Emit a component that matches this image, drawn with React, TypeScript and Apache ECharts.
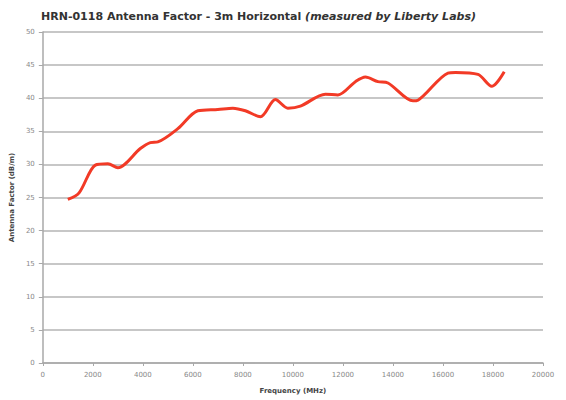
import React, { useEffect, useRef } from "react";
import * as echarts from "echarts";

const titleMain = "HRN-0118 Antenna Factor - 3m Horizontal";
const titleNote = "(measured by Liberty Labs)";
const xAxisName = "Frequency (MHz)";
const yAxisName = "Antenna Factor (dB/m)";

const frequencies = [1000, 1450, 2100, 2600, 3000, 3900, 4300, 4600, 5400, 6200, 7000, 7600, 8100, 8700, 9300, 9800, 10300, 11300, 11800, 12500, 12900, 13400, 13800, 14800, 15000, 16200, 16500, 17400, 17950, 18450];
const antennaFactor = [24.7, 25.7, 29.9, 30.1, 29.5, 32.4, 33.3, 33.4, 35.4, 38.1, 38.3, 38.5, 38.1, 37.2, 39.8, 38.5, 38.8, 40.6, 40.5, 42.5, 43.2, 42.5, 42.3, 39.6, 39.7, 43.8, 43.9, 43.6, 41.8, 44.0];

export default function App() {
  const ref = useRef<HTMLDivElement>(null);
  useEffect(() => {
    if (!ref.current) return;
    const chart = echarts.init(ref.current, null, { renderer: "svg" });
    const data = frequencies.map((f, i) => [f, antennaFactor[i]]);
    const base = { fontFamily: "DejaVu Sans", fontSize: 11, fontWeight: "bold", color: "#333333" };
    chart.setOption({
      animation: false,
      backgroundColor: "#ffffff",
      title: {
        text: "{a|" + titleMain + "} {b|" + titleNote + "}",
        left: 36,
        top: 6,
        textStyle: {
          ...base,
          rich: {
            a: { ...base },
            b: { ...base, fontStyle: "italic" },
          },
        },
      },
      grid: { left: 42, right: 23, top: 32, bottom: 37, containLabel: false },
      xAxis: {
        type: "value",
        min: 0,
        max: 20000,
        interval: 2000,
        name: xAxisName,
        nameLocation: "middle",
        nameGap: 24,
        nameTextStyle: { fontFamily: "DejaVu Sans", fontSize: 7, fontWeight: "bold", color: "#444444" },
        axisLine: { show: true, lineStyle: { color: "#a8a8a8", width: 1.5 } },
        axisTick: { show: true, length: 3, lineStyle: { color: "#a8a8a8" } },
        axisLabel: {
          fontFamily: "DejaVu Sans",
          fontSize: 7,
          color: "#888888",
          margin: 8,
          formatter: (v: number) => String(v),
        },
        splitLine: { show: false },
      },
      yAxis: {
        type: "value",
        min: 0,
        max: 50,
        interval: 5,
        name: yAxisName,
        nameLocation: "middle",
        nameGap: 26,
        nameTextStyle: { fontFamily: "DejaVu Sans", fontSize: 7, fontWeight: "bold", color: "#444444" },
        axisLine: { show: true, lineStyle: { color: "#a8a8a8", width: 1.5 } },
        axisTick: { show: true, length: 4, lineStyle: { color: "#a8a8a8" } },
        axisLabel: { fontFamily: "DejaVu Sans", fontSize: 7, color: "#888888", margin: 8 },
        splitLine: { show: true, lineStyle: { color: "#b4b4b4", width: 1.5 } },
      },
      series: [
        {
          type: "line",
          data,
          smooth: 0.3,
          symbol: "none",
          lineStyle: { color: "#f23a26", width: 3 },
        },
      ],
    });
    return () => chart.dispose();
  }, []);
  return (
    <div
      ref={ref}
      style={{ position: "fixed", left: 0, top: 0, width: 566, height: 400 }}
    />
  );
}
